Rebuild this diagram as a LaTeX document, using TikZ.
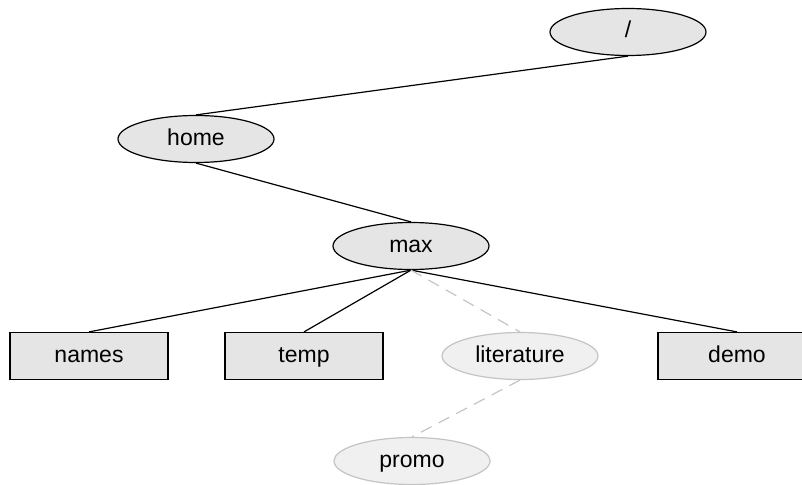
\documentclass[tikz,border=0pt]{standalone}
\usepackage{fontspec}
\setmainfont{Liberation Sans}
\usetikzlibrary{shapes.geometric}
\definecolor{nodefill}{HTML}{E5E5E5}
\definecolor{ghostfill}{HTML}{F0F0F0}
\definecolor{ghostline}{HTML}{C4C4C4}
\tikzset{
  lbl/.style={inner sep=0pt, text height=16pt, text depth=4pt, font=\fontsize{23}{27}\selectfont},
  dir/.style={lbl, ellipse, draw=black, fill=nodefill, line width=1.2pt, minimum width=156pt, minimum height=47pt},
  filebox/.style={lbl, rectangle, draw=black, fill=nodefill, line width=1.2pt, minimum width=158pt, minimum height=47pt},
  ghost/.style={lbl, ellipse, draw=ghostline, fill=ghostfill, line width=1.2pt, minimum width=156pt, minimum height=47pt},
  link/.style={draw=black, line width=1.2pt},
  ghostlink/.style={draw=ghostline, line width=1.2pt, dash pattern=on 12pt off 8pt},
}
\begin{document}
\begin{tikzpicture}[x=1pt,y=-1pt]
\useasboundingbox (0,0) rectangle (802,484);
\node[dir] (root) at (628,32) {/};
\node[dir] (home) at (196,139) {home};
\node[dir] (max) at (411,246) {max};
\node[filebox] (names) at (89,356) {names};
\node[filebox] (temp) at (304,356) {temp};
\node[ghost] (lit) at (520,356) {literature};
\node[filebox] (demo) at (737,356) {demo};
\node[ghost] (promo) at (412,461) {promo};
\draw[link] (root.south) -- (home.north);
\draw[link] (home.south) -- (max.north);
\draw[link] (max.south) -- (names.north);
\draw[link] (max.south) -- (temp.north);
\draw[link] (max.south) -- (demo.north);
\draw[ghostlink] (max.south) -- (lit.north);
\draw[ghostlink] (lit.south) -- (promo.north);
\end{tikzpicture}
\end{document}
